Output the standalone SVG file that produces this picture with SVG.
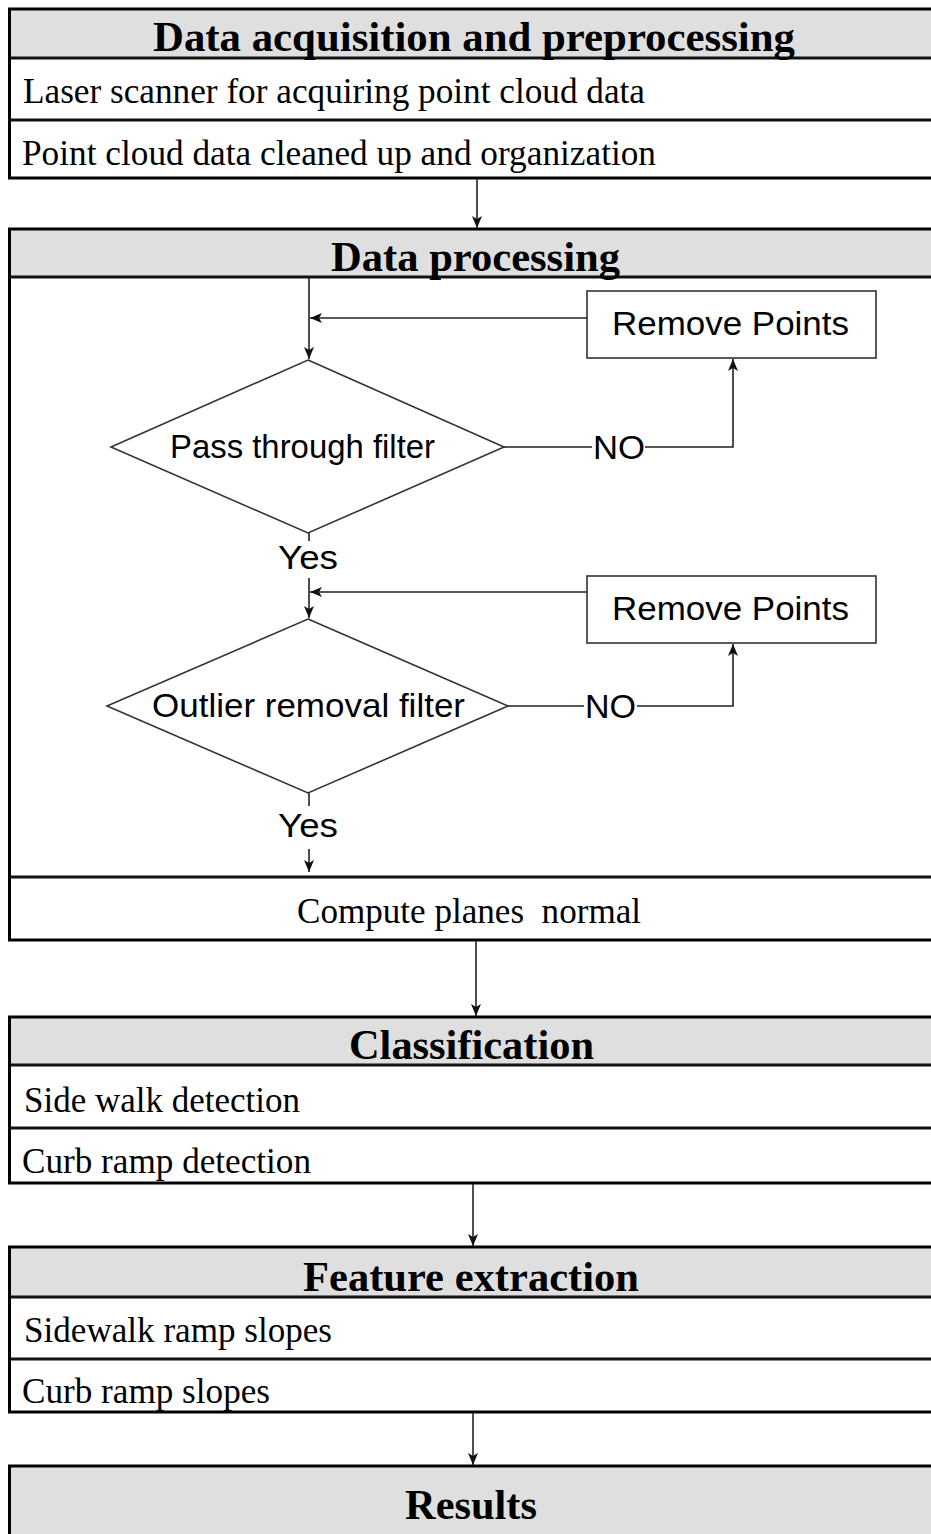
<svg xmlns="http://www.w3.org/2000/svg" width="931" height="1534" viewBox="0 0 931 1534">
<style>
.hdr{fill:#dfdfdf;stroke:none}
.frame{fill:none;stroke:#000;stroke-width:3}
.row{stroke:#111;stroke-width:3}
.ht{font-family:"Liberation Serif","Times New Roman",serif;font-weight:bold;font-size:43px;fill:#000}
.rt{font-family:"Liberation Serif","Times New Roman",serif;font-size:36px;fill:#000}
.st{font-family:"Liberation Sans",Arial,sans-serif;font-size:33px;fill:#000}
.ln{fill:none;stroke:#222;stroke-width:1.6}
.shape{fill:#fff;stroke:#333;stroke-width:1.6}
</style>
<defs>
<marker id="ah" viewBox="0 0 12 10" refX="12" refY="5" markerWidth="12" markerHeight="10" orient="auto" markerUnits="userSpaceOnUse">
<path d="M0,0 L12,5 L0,10 L3,5 z" fill="#111"/>
</marker>
</defs>

<g id="box-acquisition">
<rect class="hdr" x="9.5" y="9" width="940" height="49"/>
<line class="row" x1="9.5" y1="58" x2="940" y2="58"/>
<line class="row" x1="9.5" y1="120" x2="940" y2="120"/>
<rect class="frame" x="9.5" y="9" width="940" height="169"/>
<text class="ht" x="153" y="51" textLength="642" lengthAdjust="spacingAndGlyphs">Data acquisition and preprocessing</text>
<text class="rt" x="23" y="103" textLength="622" lengthAdjust="spacingAndGlyphs">Laser scanner for acquiring point cloud data</text>
<text class="rt" x="22" y="165" textLength="634" lengthAdjust="spacingAndGlyphs">Point cloud data cleaned up and organization</text>
</g>

<g id="box-processing">
<rect class="hdr" x="9.5" y="229" width="940" height="48"/>
<line class="row" x1="9.5" y1="277" x2="940" y2="277"/>
<line class="row" x1="9.5" y1="877" x2="940" y2="877"/>
<rect class="frame" x="9.5" y="229" width="940" height="711"/>
<text class="ht" x="331" y="271" textLength="289" lengthAdjust="spacingAndGlyphs">Data processing</text>
<text class="rt" x="297" y="923" textLength="344" lengthAdjust="spacingAndGlyphs" xml:space="preserve">Compute planes  normal</text>
</g>

<g id="remove-points-1">
<rect class="shape" x="587" y="291" width="289" height="67"/>
<text class="st" x="612" y="335" textLength="237" lengthAdjust="spacingAndGlyphs">Remove Points</text>
</g>

<g id="pass-through-filter">
<polygon class="shape" points="308,360 504,447 308,533 111,447"/>
<text class="st" x="170" y="458" textLength="265" lengthAdjust="spacingAndGlyphs">Pass through filter</text>
</g>

<g id="remove-points-2">
<rect class="shape" x="587" y="576" width="289" height="67"/>
<text class="st" x="612" y="620" textLength="237" lengthAdjust="spacingAndGlyphs">Remove Points</text>
</g>

<g id="outlier-removal-filter">
<polygon class="shape" points="308,619 508,706 308,793 107,706"/>
<text class="st" x="152" y="717" textLength="313" lengthAdjust="spacingAndGlyphs">Outlier removal filter</text>
</g>

<g id="box-classification">
<rect class="hdr" x="9.5" y="1017" width="940" height="48"/>
<line class="row" x1="9.5" y1="1065" x2="940" y2="1065"/>
<line class="row" x1="9.5" y1="1128" x2="940" y2="1128"/>
<rect class="frame" x="9.5" y="1017" width="940" height="166"/>
<text class="ht" x="349" y="1059" textLength="245" lengthAdjust="spacingAndGlyphs">Classification</text>
<text class="rt" x="24" y="1112" textLength="276" lengthAdjust="spacingAndGlyphs">Side walk detection</text>
<text class="rt" x="22" y="1173" textLength="289" lengthAdjust="spacingAndGlyphs">Curb ramp detection</text>
</g>

<g id="box-feature-extraction">
<rect class="hdr" x="9.5" y="1247" width="940" height="50"/>
<line class="row" x1="9.5" y1="1297" x2="940" y2="1297"/>
<line class="row" x1="9.5" y1="1359" x2="940" y2="1359"/>
<rect class="frame" x="9.5" y="1247" width="940" height="165"/>
<text class="ht" x="303" y="1291" textLength="336" lengthAdjust="spacingAndGlyphs">Feature extraction</text>
<text class="rt" x="24" y="1342" textLength="308" lengthAdjust="spacingAndGlyphs">Sidewalk ramp slopes</text>
<text class="rt" x="22" y="1403" textLength="248" lengthAdjust="spacingAndGlyphs">Curb ramp slopes</text>
</g>

<g id="box-results">
<rect class="hdr" x="9.5" y="1466" width="940" height="80"/>
<rect class="frame" x="9.5" y="1466" width="940" height="80"/>
<text class="ht" x="405" y="1519" textLength="132" lengthAdjust="spacingAndGlyphs">Results</text>
</g>

<g id="connectors">
<line class="ln" x1="477" y1="178" x2="477" y2="228" marker-end="url(#ah)"/>
<line class="ln" x1="309" y1="278" x2="309" y2="359" marker-end="url(#ah)"/>
<line class="ln" x1="587" y1="318" x2="310" y2="318" marker-end="url(#ah)"/>
<polyline class="ln" points="504,447 592,447"/>
<polyline class="ln" points="645,447 733,447 733,359" marker-end="url(#ah)"/>
<text class="st" x="593" y="459" textLength="52" lengthAdjust="spacingAndGlyphs">NO</text>
<line class="ln" x1="309" y1="533" x2="309" y2="541"/>
<text class="st" x="278" y="569" textLength="60" lengthAdjust="spacingAndGlyphs">Yes</text>
<line class="ln" x1="309" y1="578" x2="309" y2="618" marker-end="url(#ah)"/>
<line class="ln" x1="587" y1="592" x2="310" y2="592" marker-end="url(#ah)"/>
<polyline class="ln" points="508,706 584,706"/>
<polyline class="ln" points="637,706 733,706 733,644" marker-end="url(#ah)"/>
<text class="st" x="585" y="718" textLength="51" lengthAdjust="spacingAndGlyphs">NO</text>
<line class="ln" x1="309" y1="793" x2="309" y2="806"/>
<text class="st" x="278" y="837" textLength="60" lengthAdjust="spacingAndGlyphs">Yes</text>
<line class="ln" x1="309" y1="849" x2="309" y2="872" marker-end="url(#ah)"/>
<line class="ln" x1="476" y1="941" x2="476" y2="1016" marker-end="url(#ah)"/>
<line class="ln" x1="473" y1="1184" x2="473" y2="1246" marker-end="url(#ah)"/>
<line class="ln" x1="473" y1="1413" x2="473" y2="1465" marker-end="url(#ah)"/>
</g>
</svg>
